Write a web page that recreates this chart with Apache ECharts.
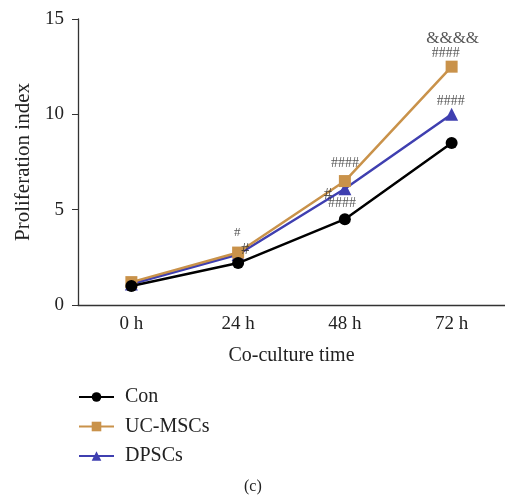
<!DOCTYPE html>
<html><head><meta charset="utf-8">
<script src="https://cdn.jsdelivr.net/npm/echarts@6/dist/echarts.min.js"></script>
<style>html,body{margin:0;padding:0;background:#fff}#c{width:505px;height:502px}</style>
</head><body><div id="c"></div>
<script>
const categories = ['0 h', '24 h', '48 h', '72 h'];
const conValues = [1.0, 2.2, 4.5, 8.5];
const ucValues = [1.2, 2.75, 6.5, 12.5];
const dpscValues = [1.1, 2.65, 6.1, 10.0];
const yTicks = [0, 5, 10, 15];
// annotations: [category, value, text, pixel x-offset, font size]
const annotations = [
  ['24 h', 3.78, '#', -1, 13],
  ['24 h', 2.9, '#', 7, 16],
  ['48 h', 7.45, '####', 0, 14],
  ['48 h', 5.8, '#', -17, 16],
  ['48 h', 5.35, '####', -3, 14],
  ['72 h', 14.0, '&&&&', 1, 17],
  ['72 h', 13.2, '####', -6, 14],
  ['72 h', 10.7, '####', -1, 14]
];
const FONT = '"Liberation Serif", "DejaVu Serif", serif';
const chart = echarts.init(document.getElementById('c'));
chart.setOption({
  animation: false,
  backgroundColor: '#fff',
  grid: { left: 78, top: 19, width: 432, height: 286, containLabel: false },
  xAxis: {
    type: 'category', data: categories, boundaryGap: true,
    axisLine: { lineStyle: { color: '#333', width: 1.3 } },
    axisTick: { alignWithLabel: true, length: 4, lineStyle: { color: '#333' } },
    axisLabel: { color: '#222', fontFamily: FONT, fontSize: 19, margin: 10 },
    name: 'Co-culture time', nameLocation: 'middle', nameGap: 41,
    nameTextStyle: { color: '#222', fontFamily: FONT, fontSize: 20 }
  },
  yAxis: {
    type: 'value', min: 0, max: 15, interval: 5,
    splitLine: { show: false },
    axisLine: { show: true, lineStyle: { color: '#333', width: 1.3 } },
    axisTick: { show: true, length: 6, lineStyle: { color: '#333' } },
    axisLabel: { color: '#222', fontFamily: FONT, fontSize: 19, margin: 14,
      formatter: v => yTicks.includes(v) ? String(v) : '' },
    name: 'Proliferation index', nameLocation: 'middle', nameGap: 43,
    nameTextStyle: { color: '#222', fontFamily: FONT, fontSize: 21 }
  },
  legend: {
    orient: 'vertical', left: 78, top: 387, padding: 0, itemWidth: 35, itemHeight: 12, itemGap: 9.5,
    textStyle: { color: '#222', fontFamily: FONT, fontSize: 20, padding: [0, 0, 0, 6] },
    data: ['Con', 'UC-MSCs', 'DPSCs']
  },
  series: [
    { name: 'DPSCs', type: 'line', data: dpscValues, symbol: 'triangle', symbolSize: 13,
      itemStyle: { color: '#3F3FB0' }, lineStyle: { width: 2.5, color: '#3F3FB0' }, z: 2 },
    { name: 'UC-MSCs', type: 'line', data: ucValues, symbol: 'rect', symbolSize: 12,
      itemStyle: { color: '#C9924A' }, lineStyle: { width: 2.5, color: '#C9924A' }, z: 3 },
    { name: 'Con', type: 'line', data: conValues, symbol: 'circle', symbolSize: 12,
      itemStyle: { color: '#000' }, lineStyle: { width: 2.5, color: '#000' }, z: 4 },
    { name: 'annot', type: 'scatter', symbolSize: 0, z: 5, silent: true,
      data: annotations.map(a => ({
        value: [a[0], a[1]],
        label: { show: true, formatter: a[2], position: 'inside', offset: [a[3], 0],
          color: '#2a2a2a', fontFamily: FONT, fontSize: a[4] }
      })) }
  ],
  graphic: [
    { type: 'text', left: 244, top: 479,
      style: { text: '(c)', fill: '#222', font: '16px ' + FONT } }
  ]
});
</script></body></html>
